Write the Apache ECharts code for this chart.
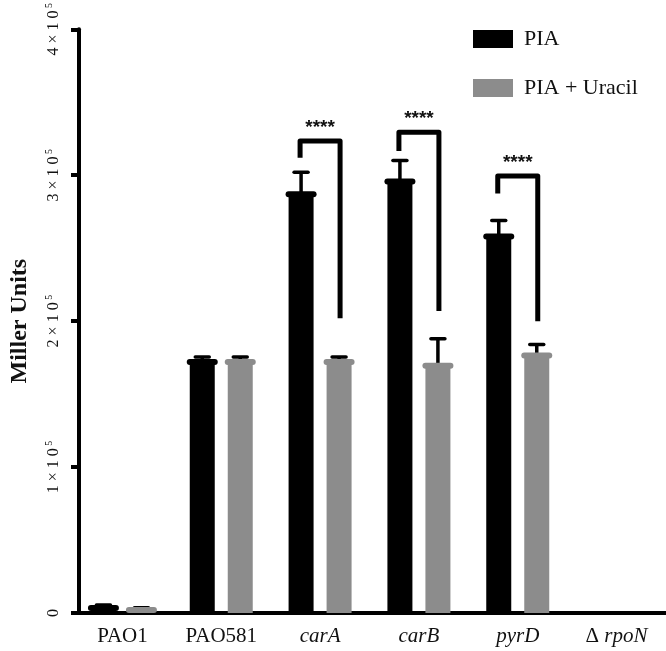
<!DOCTYPE html>
<html>
<head>
<meta charset="utf-8">
<script src="https://cdn.jsdelivr.net/npm/echarts@6/dist/echarts.min.js"></script>
<style>
html,body{margin:0;padding:0;background:#fff;}
#chart{width:666px;height:651px;}
</style>
</head>
<body>
<div id="chart"></div>
<script>
// ---- data ----
const categories = ['PAO1', 'PAO581', 'carA', 'carB', 'pyrD', 'ΔrpoN'];
const piaMean = [3400, 172000, 287000, 295600, 258000, 0];
const piaUpper = [5400, 175500, 302000, 310000, 269000, 0];
const uracilMean = [2000, 172000, 172000, 169500, 176500, 0];
const uracilUpper = [3600, 175500, 175500, 188000, 184000, 0];
// significance brackets: [category index, bracket top, left leg end, right leg end]
const sigCats = [2, 3, 4];
const sigTop = [323500, 329500, 299500];
const sigLeftEnd = [312000, 316500, 287500];
const sigRightEnd = [202000, 207000, 200000];
const sigLabels = ['****', '****', '****'];

const BLACK = '#000000';
const GRAY = '#8c8c8c';
const SERIF = '"Liberation Serif","DejaVu Serif",serif';

const chart = echarts.init(document.getElementById('chart'));

function errRender(side, capColor) {
  return function (params, api) {
    const i = api.value(0);
    const mean = api.value(1);
    const upper = api.value(2);
    if (!mean) return null;
    const c = api.coord([i, 0]);
    const x = c[0] + side * 19;
    const yM = api.coord([i, mean])[1];
    const yU = api.coord([i, upper])[1];
    return {
      type: 'group',
      children: [
        { type: 'line', shape: { x1: x, y1: yM, x2: x, y2: yU }, style: { stroke: BLACK, lineWidth: 3.5 } },
        { type: 'line', shape: { x1: x - 7, y1: yU, x2: x + 7, y2: yU }, style: { stroke: BLACK, lineWidth: 3.5, lineCap: 'round' } },
        { type: 'rect', shape: { x: x - 15.5, y: yM - 3, width: 31, height: 6, r: 3 }, style: { fill: capColor } }
      ]
    };
  };
}

function sigRender(params, api) {
  const i = api.value(0);
  const c = api.coord([i, 0]);
  const xl = c[0] - 20, xr = c[0] + 20;
  const yT = api.coord([i, api.value(1)])[1];
  const yL = api.coord([i, api.value(2)])[1];
  const yR = api.coord([i, api.value(3)])[1];
  return {
    type: 'group',
    children: [
      { type: 'polyline', shape: { points: [[xl, yL], [xl, yT], [xr, yT], [xr, yR]] },
        style: { stroke: BLACK, lineWidth: 5, fill: null, lineJoin: 'round' } },
      { type: 'text', style: { x: c[0], y: yT - 13, text: sigLabels[params.dataIndex], align: 'center', verticalAlign: 'middle',
        font: 'bold 19px "Liberation Sans", Arial, sans-serif', fill: '#111' } }
    ]
  };
}

const option = {
  animation: false,
  backgroundColor: '#fff',
  grid: { left: 69, top: 23, width: 597, height: 590 },
  legend: {
    data: ['PIA', 'PIA + Uracil'],
    orient: 'vertical',
    left: 468, top: 23,
    itemWidth: 40, itemHeight: 18, itemGap: 27,
    icon: 'rect',
    textStyle: { fontFamily: SERIF, fontSize: 22, color: '#111', padding: [0, 0, 0, 6] }
  },
  xAxis: {
    type: 'category',
    data: categories,
    axisLine: { lineStyle: { color: BLACK, width: 4 } },
    axisTick: { alignWithLabel: true, length: 8, lineStyle: { color: BLACK, width: 4 } },
    axisLabel: {
      margin: 13, interval: 0, color: '#111', fontFamily: SERIF, fontSize: 21,
      formatter: function (v) {
        if (v.indexOf('PAO') === 0) return '{n|' + v + '}';
        if (v.charAt(0) === 'Δ') return '{n|Δ }{i|' + v.slice(1) + '}';
        return '{i|' + v + '}';
      },
      rich: {
        n: { fontFamily: SERIF, fontSize: 21, color: '#111' },
        i: { fontFamily: SERIF, fontSize: 21, fontStyle: 'italic', color: '#111' }
      }
    }
  },
  yAxis: {
    type: 'value',
    min: 0, max: 400000, interval: 100000,
    offset: -6,
    name: 'Miller Units',
    nameLocation: 'middle',
    nameRotate: 90,
    nameGap: 47,
    nameTextStyle: { fontFamily: SERIF, fontSize: 24, fontWeight: 'bold', color: '#111' },
    axisLine: { show: true, lineStyle: { color: BLACK, width: 4 } },
    axisTick: { show: true, length: 8, lineStyle: { color: BLACK, width: 4 } },
    splitLine: { show: false },
    axisLabel: {
      rotate: 90, margin: 15, color: '#111',
      formatter: function (v) {
        if (v === 0) return '{b|0}';
        return '{b|' + (v / 100000) + ' × 1 0}{s| 5}';
      },
      rich: {
        b: { fontFamily: SERIF, fontSize: 16, color: '#111', lineHeight: 20 },
        s: { fontFamily: SERIF, fontSize: 10, color: '#111', verticalAlign: 'top', lineHeight: 20 }
      }
    }
  },
  series: [
    { name: 'PIA', type: 'bar', data: piaMean, barWidth: 25, barGap: '52%', itemStyle: { color: BLACK } },
    { name: 'PIA + Uracil', type: 'bar', data: uracilMean, barWidth: 25, itemStyle: { color: GRAY } },
    { type: 'custom', renderItem: errRender(-1, BLACK), z: 5,
      data: categories.map((c, i) => [i, piaMean[i], piaUpper[i]]) },
    { type: 'custom', renderItem: errRender(1, GRAY), z: 5,
      data: categories.map((c, i) => [i, uracilMean[i], uracilUpper[i]]) },
    { type: 'custom', renderItem: sigRender, z: 6,
      data: sigCats.map((c, k) => [c, sigTop[k], sigLeftEnd[k], sigRightEnd[k]]) }
  ]
};
chart.setOption(option);
</script>
</body>
</html>
